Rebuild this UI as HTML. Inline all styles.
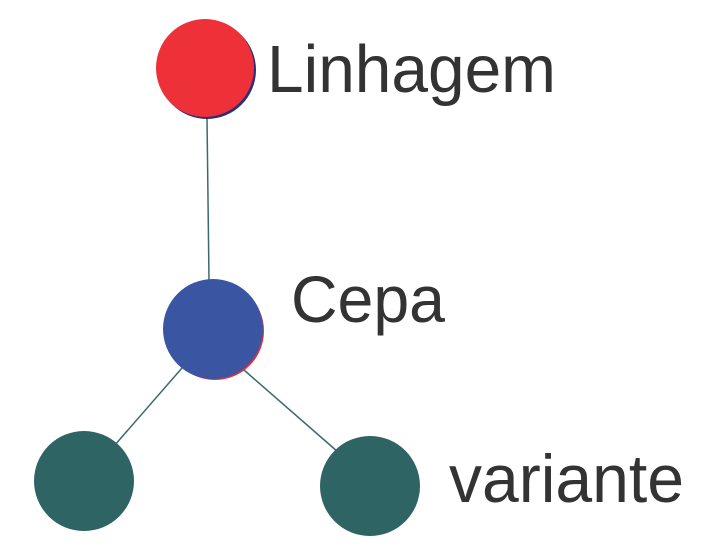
<!DOCTYPE html>
<html><head><style>
html,body{margin:0;padding:0;background:#fff;width:705px;height:560px;overflow:hidden}
</style></head><body>
<svg width="705" height="560" xmlns="http://www.w3.org/2000/svg">
<g stroke="#3a6b6b" stroke-width="1.5">
<line x1="207" y1="118" x2="209" y2="280"/>
<line x1="182" y1="368" x2="114" y2="446"/>
<line x1="244" y1="370" x2="338" y2="452"/>
</g>
<circle cx="207" cy="70" r="49" fill="#2a2f7a"/>
<circle cx="205" cy="68" r="49" fill="#ee3038"/>
<circle cx="215" cy="331" r="49" fill="#e0303a"/>
<circle cx="213" cy="329" r="50" fill="#3a55a2"/>
<circle cx="84" cy="481" r="50" fill="#2f6464"/>
<circle cx="370" cy="486" r="50" fill="#2f6464"/>
<g font-family="Liberation Sans, sans-serif" fill="#333">
<text x="267" y="92" font-size="67" textLength="289" lengthAdjust="spacingAndGlyphs">Linhagem</text>
<text x="291" y="322" font-size="66" textLength="154" lengthAdjust="spacingAndGlyphs">Cepa</text>
<text x="449" y="502" font-size="68" textLength="235" lengthAdjust="spacingAndGlyphs">variante</text>
</g>
</svg>
</body></html>
